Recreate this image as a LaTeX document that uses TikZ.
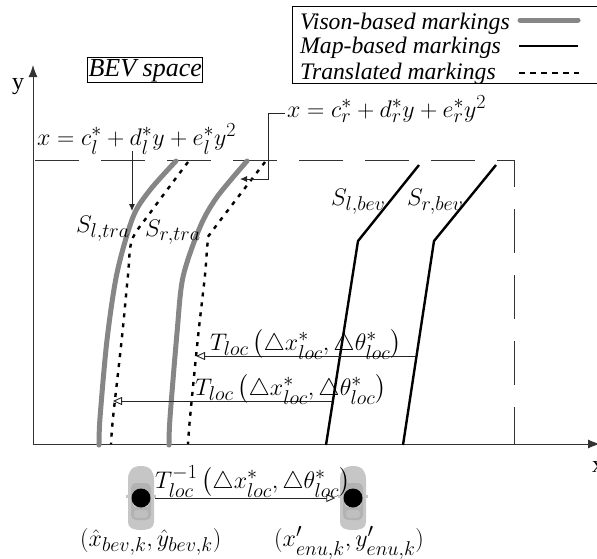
\documentclass[tikz,border=0pt]{standalone}
\usepackage{fix-cm}
\usepackage{amsmath,amssymb}
\usepackage{fontspec}
\newfontfamily\capfont{Liberation Serif}
\DeclareMathSizes{24}{24}{20}{15}
\usepackage{tikz}
\usetikzlibrary{arrows.meta,calc}
\tikzset{
    visionline/.style={line width=5pt,draw=gray!95,line cap=round},
    mapline/.style={line width=2.4pt,draw=black},
    transline/.style={line width=2.4pt,draw=black,dash pattern=on 4pt off 6pt},
    frameline/.style={line width=1pt,draw=black!80},
    mathlabel/.style={anchor=base west,inner sep=0pt,font=\fontsize{24}{29}\selectfont},
    caplabel/.style={anchor=base west,inner sep=0pt,font=\capfont\itshape\fontsize{23.7}{26}\selectfont},
    axislabel/.style={anchor=base west,inner sep=0pt,font=\capfont\fontsize{24}{26}\selectfont},
    pointer/.style={line width=0.9pt,draw=black!85,-{Latex[length=7pt,width=6pt]}},
    shiftarrow/.style={line width=0.9pt,draw=black!85,-{Triangle[open,length=9pt,width=8pt]}},
    cardot/.style={circle,fill=black,minimum size=19pt,inner sep=0pt}
}
\begin{document}
\begin{tikzpicture}[x=1pt,y=-1pt]
\useasboundingbox (0,0) rectangle (597,558);

% axes and dashed frame
\coordinate (origin) at (33,444);
\coordinate (yend) at (33,65);
\coordinate (xend) at (600,444);
\coordinate (frameTL) at (35,160);
\coordinate (frameTR) at (514,160);
\coordinate (frameBR) at (514,444);
\draw[frameline,dash pattern=on 44pt off 22pt] (frameTL) -- (frameTR) -- (frameBR);
\draw[frameline,-{Latex[length=12pt,width=9pt]}] (origin) -- (yend);
\draw[frameline,-{Latex[length=12pt,width=9pt]}] (origin) -- (xend);
\node[axislabel] (ylabel) at (12,89) {y};
\node[axislabel] (xlabel) at (592,472) {x};

% markings
\draw[visionline] plot[smooth,tension=0.5] coordinates {(176,161) (150,190) (133,217) (117,273) (107,340) (100,418) (99,445)};
\draw[visionline] plot[smooth,tension=0.5] coordinates {(247,161) (217,197) (200,227) (183,277) (177,333) (170,418) (169,445)};
\draw[transline] plot[smooth,tension=0.5] coordinates {(188,162) (150,213) (132,240) (128,275) (122,337) (113,418) (111,444)};
\draw[transline] plot[smooth,tension=0.5] coordinates {(265,162) (213,230) (208,240) (205,275) (198,337) (190,418) (188,444)};
\draw[mapline] (419,165) -- (358,241) -- (326,445);
\draw[mapline] (496,165) -- (434,241) -- (403,445);

% legend
\draw[line width=1pt] (597,6) -- (292,6) -- (292,83) -- (597,83);
\node[caplabel] (visiontext) at (300,29) {Vison-based markings};
\node[caplabel] (maptext) at (300,53) {Map-based markings};
\node[caplabel] (transtext) at (300,79) {Translated markings};
\draw[visionline] (520,20) -- (578,20);
\draw[mapline] (519,46) -- (578,46);
\draw[transline,dash pattern=on 6pt off 5pt] (519,73) -- (579,73);

\node[caplabel,draw,line width=1pt,inner sep=1pt,anchor=base west,font=\capfont\itshape\fontsize{26}{28}\selectfont] (bevspace) at (87,76) {BEV space};

% curve labels
\node[mathlabel] (leftcurve) at (37,145) {$x=c_l^*+d_l^*y+e_l^*y^2$};
\node[mathlabel] (rightcurve) at (287,117) {$x=c_r^*+d_r^*y+e_r^*y^2$};
\node[mathlabel] (sltra) at (76,232) {$S_{l,tra}$};
\node[mathlabel] (srtra) at (145,236) {$S_{r,tra}$};
\node[mathlabel] (slbev) at (331,205) {$S_{l,bev}$};
\node[mathlabel] (srbev) at (407,205) {$S_{r,bev}$};

\coordinate (leftstart) at (132,151);
\coordinate (lefttip) at (132,211);
\draw[pointer] (leftstart) -- (lefttip);
\coordinate (rightstart) at (285,113);
\coordinate (rightbend) at (268,179);
\coordinate (righttip) at (240,179);
\draw[pointer] (rightstart) -| (rightbend) -- (righttip);

% shift arrows
\coordinate (shiftA) at (415,356);
\coordinate (shiftAtip) at (196,356);
\coordinate (shiftB) at (332,401);
\coordinate (shiftBtip) at (113,401);
\draw[shiftarrow] (shiftA) -- (shiftAtip);
\draw[shiftarrow] (shiftB) -- (shiftBtip);
\node[mathlabel] (tlocA) at (210,350) {$T_{loc}\left(\triangle x^*_{loc},\triangle\theta^*_{loc}\right)$};
\node[mathlabel] (tlocB) at (195,395) {$T_{loc}\left(\triangle x^*_{loc},\triangle\theta^*_{loc}\right)$};

% cars
\foreach \i/\cx in {l/141,r/353} {
    \begin{scope}[shift={(\cx,498)}]
    \fill[gray!45] (-15,-3) rectangle (15,0);
    \fill[gray!45] (0,-32) .. controls (-10,-32) and (-13,-26) .. (-13,-18) -- (-13,24) .. controls (-13,30) and (-8,32) .. (0,32) .. controls (8,32) and (13,30) .. (13,24) -- (13,-18) .. controls (13,-26) and (10,-32) .. (0,-32) -- cycle;
    \fill[gray!60,rounded corners=5pt] (-10,-15) rectangle (10,22);
    \fill[gray!40,rounded corners=3pt] (-8,-6) rectangle (8,9);
    \fill[gray!50,rounded corners=3pt] (-7,12) rectangle (7,20);
    \end{scope}
    \node[cardot] (car\i) at (\cx,498) {};
}
\draw[shiftarrow,shorten <=4pt,shorten >=8pt] (carl) -- (carr);
\node[mathlabel] (tinv) at (155,488) {$T_{loc}^{-1}\left(\triangle x^*_{loc},\triangle\theta^*_{loc}\right)$};
\node[mathlabel] (posl) at (80,546) {$(\hat{x}_{bev,k},\hat{y}_{bev,k})$};
\node[mathlabel] (posr) at (274,546) {$(x'_{enu,k},y'_{enu,k})$};
\end{tikzpicture}
\end{document}
